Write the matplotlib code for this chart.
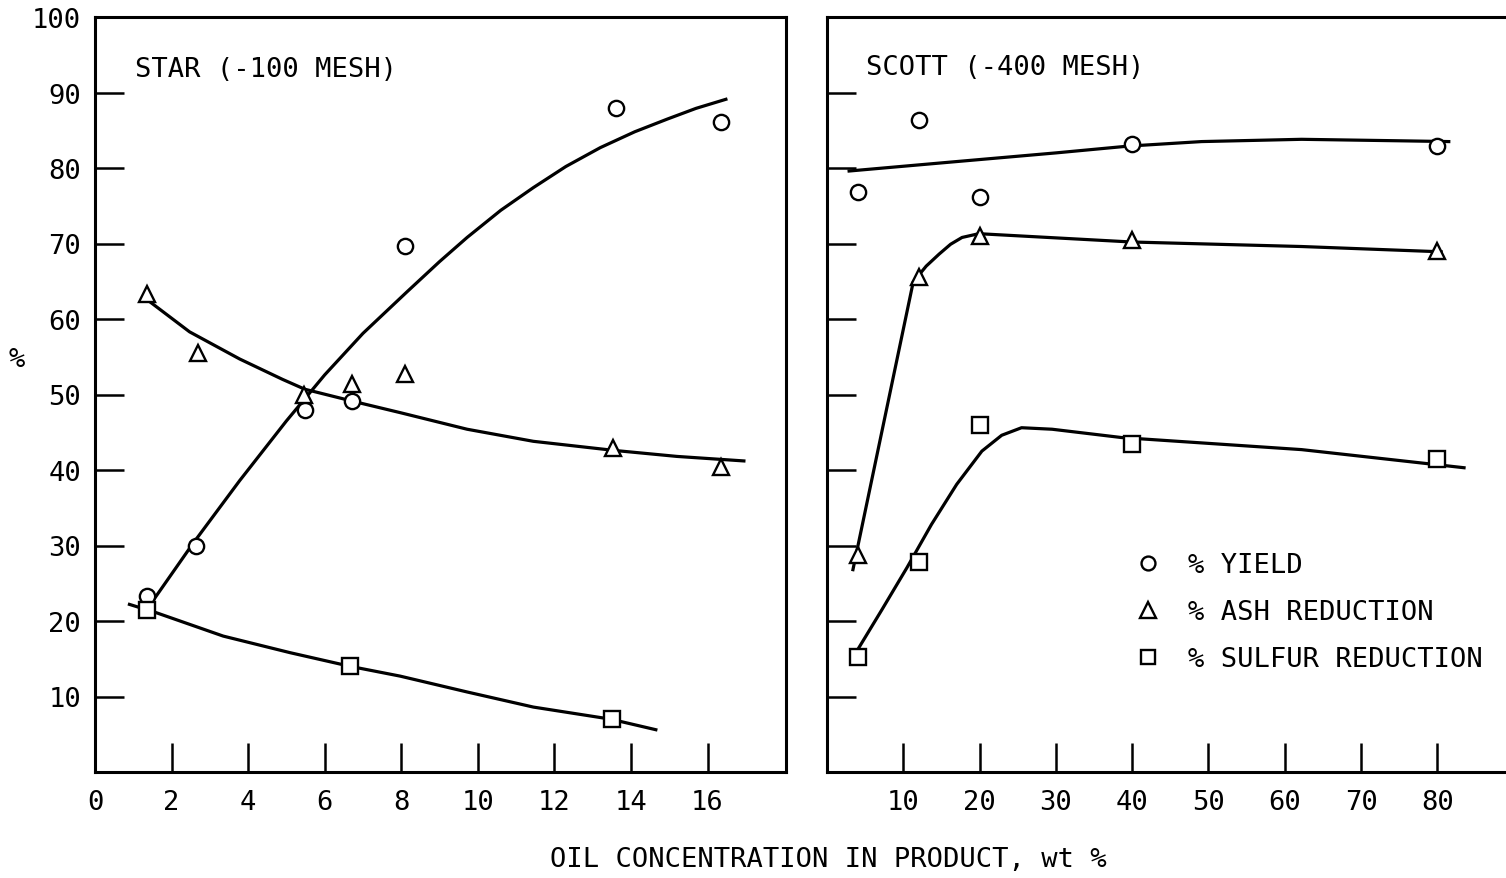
import matplotlib
matplotlib.use("Agg")
import matplotlib.pyplot as plt
from matplotlib.lines import Line2D

plt.rcParams['font.family'] = ['DejaVu Sans Mono', 'DejaVu Sans']

# ---------------- STAR (-100 MESH) ----------------
star_x_yield = [1.35, 2.65, 5.48, 6.71, 8.1, 13.6, 16.35]
star_yield = [23.3, 30.0, 48.0, 49.1, 69.7, 87.9, 86.1]
star_x_ash = [1.35, 2.68, 5.46, 6.71, 8.1, 13.54, 16.35]
star_ash = [63.3, 55.5, 50.0, 51.4, 52.7, 42.9, 40.4]
star_x_sulfur = [1.35, 6.66, 13.5]
star_sulfur = [21.5, 14.1, 7.0]

# fitted curves
star_fit_yield_x = [1.35, 2.55, 3.78, 5.0, 6.0, 7.0, 8.15, 9.0, 9.72, 10.6, 11.45, 12.3, 13.2, 14.1, 14.96, 15.7, 16.48]
star_fit_yield_y = [21.5, 30.2, 38.6, 46.5, 52.6, 58.1, 63.6, 67.6, 70.8, 74.4, 77.4, 80.2, 82.7, 84.8, 86.5, 87.9, 89.1]
star_fit_ash_x = [1.35, 2.47, 3.78, 4.9, 5.48, 6.74, 7.97, 9.72, 11.45, 13.55, 15.2, 16.95]
star_fit_ash_y = [62.6, 58.3, 54.7, 52.0, 50.7, 49.1, 47.6, 45.4, 43.8, 42.6, 41.8, 41.2]
star_fit_sulfur_x = [0.9, 1.6, 3.35, 5.1, 6.66, 7.97, 9.72, 11.45, 13.47, 14.65]
star_fit_sulfur_y = [22.2, 21.1, 18.0, 15.8, 14.0, 12.7, 10.6, 8.6, 7.0, 5.6]

# ---------------- SCOTT (-400 MESH) ----------------
scott_x = [4, 12, 20, 40, 80]
scott_yield = [76.8, 86.3, 76.2, 83.2, 82.9]
scott_ash = [28.7, 65.5, 71.0, 70.4, 69.0]
scott_sulfur = [15.2, 27.8, 45.9, 43.4, 41.4]

scott_fit_yield_x = [2.9, 16.4, 30.0, 39.5, 49.1, 62.2, 75.3, 81.5]
scott_fit_yield_y = [79.6, 80.8, 82.0, 82.9, 83.5, 83.8, 83.6, 83.5]
scott_fit_ash_x = [3.4, 11.3, 13.0, 14.7, 16.2, 17.7, 19.9, 39.9, 62.2, 80.5]
scott_fit_ash_y = [26.8, 64.9, 67.0, 68.6, 69.9, 70.8, 71.3, 70.2, 69.6, 68.9]
scott_fit_sulfur_x = [3.9, 7.2, 10.5, 13.7, 17.0, 20.3, 22.9, 25.5, 29.5, 38.6, 62.2, 83.5]
scott_fit_sulfur_y = [16.0, 21.5, 27.1, 32.8, 38.1, 42.5, 44.6, 45.6, 45.4, 44.3, 42.7, 40.3]

star_xticks = [0, 2, 4, 6, 8, 10, 12, 14, 16]
scott_xticks = [10, 20, 30, 40, 50, 60, 70, 80]
yticks = [10, 20, 30, 40, 50, 60, 70, 80, 90, 100]

legend_labels = ['% YIELD', '% ASH REDUCTION', '% SULFUR REDUCTION']

W, H = 1506, 879
fig = plt.figure(figsize=(W / 100, H / 100), dpi=100)
fig.patch.set_facecolor('white')

ax1 = fig.add_axes([95 / W, 1 - 773 / H, 691 / W, 755 / H])
ax2 = fig.add_axes([827 / W, 1 - 773 / H, (W - 827) / W, 755 / H])

FS = 19.5
LW = 2.3
MS = 11
MEW = 1.7
mk = dict(linestyle='none', markerfacecolor='white', markeredgecolor='black',
          markeredgewidth=MEW, zorder=3)

def style(ax):
    for s in ax.spines.values():
        s.set_linewidth(2.2)
    ax.tick_params(direction='in', length=21, width=1.8, labelsize=FS)
    ax.set_ylim(0, 100)

# left panel
ax1.plot(star_fit_yield_x, star_fit_yield_y, color='black', lw=LW, zorder=2)
ax1.plot(star_fit_ash_x, star_fit_ash_y, color='black', lw=LW, zorder=2)
ax1.plot(star_fit_sulfur_x, star_fit_sulfur_y, color='black', lw=LW, zorder=2)
ax1.plot(star_x_yield, star_yield, marker='o', markersize=MS, **mk)
ax1.plot(star_x_ash, star_ash, marker='^', markersize=MS + 1, **mk)
ax1.plot(star_x_sulfur, star_sulfur, marker='s', markersize=MS, **mk)
ax1.set_xlim(0, 18.05)
style(ax1)
ax1.set_xticks(star_xticks)
ax1.set_xticklabels([str(v) for v in star_xticks])
ax1.set_yticks(yticks)
ax1.set_yticklabels([str(v) for v in yticks])
ax1.tick_params(axis='x', pad=12)
ax1.tick_params(axis='y', pad=10)
ax1.text(0.058, 0.931, 'STAR (-100 MESH)', transform=ax1.transAxes,
         fontsize=FS, va='center', ha='left')

# right panel
ax2.plot(scott_fit_yield_x, scott_fit_yield_y, color='black', lw=LW, zorder=2)
ax2.plot(scott_fit_ash_x, scott_fit_ash_y, color='black', lw=LW, zorder=2)
ax2.plot(scott_fit_sulfur_x, scott_fit_sulfur_y, color='black', lw=LW, zorder=2)
ax2.plot(scott_x, scott_yield, marker='o', markersize=MS, **mk)
ax2.plot(scott_x, scott_ash, marker='^', markersize=MS + 1, **mk)
ax2.plot(scott_x, scott_sulfur, marker='s', markersize=MS, **mk)
ax2.set_xlim(0, 89)
style(ax2)
ax2.spines['right'].set_visible(False)
ax2.set_xticks(scott_xticks)
ax2.set_xticklabels([str(v) for v in scott_xticks])
ax2.set_yticks(yticks[:-1])
ax2.set_yticklabels([])
ax2.tick_params(axis='x', pad=12)
ax2.text(0.0574, 0.934, 'SCOTT (-400 MESH)', transform=ax2.transAxes,
         fontsize=FS, va='center', ha='left')

handles = [
    Line2D([], [], marker='o', markersize=MS - 1, **mk),
    Line2D([], [], marker='^', markersize=MS, **mk),
    Line2D([], [], marker='s', markersize=MS - 1, **mk),
]
fig.legend(handles, legend_labels, loc='upper left',
           bbox_to_anchor=(1134 / W, 1 - 553 / H), bbox_transform=fig.transFigure,
           frameon=False, fontsize=FS, handlelength=1.0, handletextpad=1.0,
           labelspacing=0.78, borderpad=0, borderaxespad=0)

fig.text(17 / W, 1 - 360 / H, '%', fontsize=FS, ha='center', va='center',
         style='italic')
fig.text(828 / W, 1 - 860 / H, 'OIL CONCENTRATION IN PRODUCT, wt %',
         fontsize=FS, ha='center', va='center')

fig.savefig('out.png', dpi=100, facecolor='white')
